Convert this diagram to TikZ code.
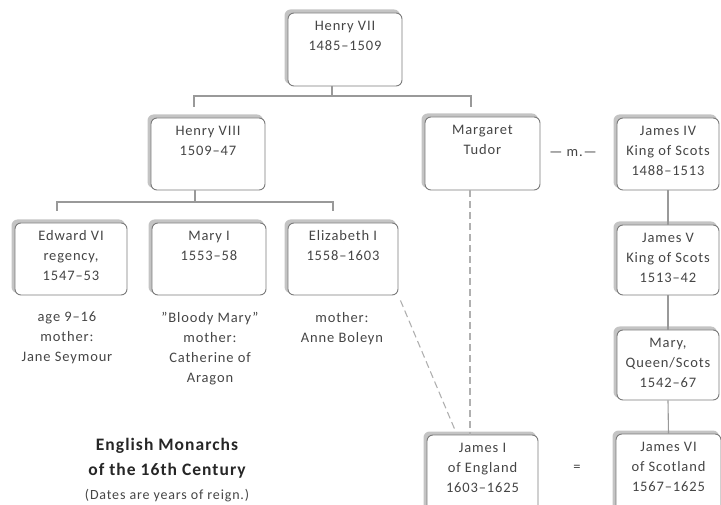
\documentclass[tikz,border=0pt]{standalone}
\usepackage{fontspec}
\setmainfont{Carlito}[LetterSpace=6]
\usetikzlibrary{calc}
\definecolor{txt}{HTML}{454545}
\definecolor{edge}{HTML}{7A7A7A}
\definecolor{shade}{HTML}{C4C4C4}
\definecolor{conn}{HTML}{999999}
\tikzset{
  kbox/.style={draw=edge, line width=0.9pt, rounded corners=6pt, fill=white, inner sep=0pt},
  kshadow/.style={fill=shade, rounded corners=6pt, draw=none},
  ktext/.style={text=txt, font=\fontsize{14.5}{20}\selectfont, align=center, inner sep=0pt, anchor=north},
  conline/.style={draw=conn, line width=1.1pt},
  dashline/.style={draw=shade!90!black, line width=1.1pt, dash pattern=on 7pt off 4pt},
}
% box: name, left, top, right, bottom, text
\newcommand{\kingbox}[6]{%
  \fill[kshadow] (#2-3.5,#3-3.5) rectangle (#4-2,#5-2);
  \node[kbox, minimum width=#4-#2, minimum height=#5-#3] (#1) at ({(#2+#4)/2},{(#3+#5)/2}) {};
  \node[ktext] (#1t) at ($(#1.north)+(0,8)$) {#6};
}
\begin{document}
\begin{tikzpicture}[x=1pt,y=-1pt]
\useasboundingbox (0,0) rectangle (721,505);
\clip (0,0) rectangle (721,505);
% boxes
\kingbox{h7}{288}{13}{402}{86}{Henry VII\\1485–1509}
\kingbox{h8}{151}{118}{265}{190}{Henry VIII\\1509–47}
\kingbox{mt}{425}{117}{540}{190}{Margaret\\Tudor}
\kingbox{j4}{617}{118}{719}{190}{James IV\\King of Scots\\1488–1513}
\kingbox{j5}{617}{225}{719}{295}{James V\\King of Scots\\1513–42}
\kingbox{mq}{617}{330}{719}{400}{Mary,\\Queen/Scots\\1542–67}
\kingbox{j6}{616}{434}{721}{512}{James VI\\of Scotland\\1567–1625}
\kingbox{ed}{15}{223}{127}{295}{Edward VI\\regency,\\1547–53}
\kingbox{m1}{152}{223}{266}{295}{Mary I\\1553–58}
\kingbox{el}{288}{223}{398}{295}{Elizabeth I\\1558–1603}
\kingbox{j1}{427}{435}{538}{512}{James I\\of England\\1603–1625}
% connector coordinates
\coordinate (hbarL) at (194,96);
\coordinate (hbarR) at (471,96);
\coordinate (cbarL) at (57,202);
\coordinate (cbarR) at (333,202);
% Henry VII children
\draw[conline] (h7.south -| 332,0) -- (332,96);
\draw[conline] (hbarL |- 0,107) -- (hbarL) -- (hbarR) -- (hbarR |- 0,107);
% Henry VIII children
\draw[conline] (h8.south -| 195,0) -- (195,202);
\draw[conline] (cbarL |- 0,211) -- (cbarL) -- (cbarR) -- (cbarR |- 0,211);
% Scots line
\draw[conline] (j4.south) -- (j5.north);
\draw[conline] (j5.south) -- (mq.north);
\draw[conline] (mq.south) -- (j6.north);
% dashed descent
\draw[dashline] (mt.south -| 470,0) -- (j1.north -| 470,0);
\draw[dashline] (el.south east) ++(2,5) coordinate (elx) (elx) -- (455,430) coordinate (j1x);
% labels
\node[ktext, anchor=center] (marr) at (573,153) {— m.—};
\node[ktext, anchor=center] (eq) at (577,468) {=};
\node[ktext] (edn) at (67,312) {age 9–16\\mother:\\Jane Seymour};
\node[ktext] (m1n) at (210,312) {"Bloody Mary"\\mother:\\Catherine of\\Aragon};
\node[ktext] (eln) at (342,312) {mother:\\Anne Boleyn};
% title
\node[text=black!85, font=\fontsize{17.5}{25}\selectfont\bfseries, align=center, inner sep=0pt, anchor=north] (title) at (167,438) {English Monarchs\\of the 16th Century};
\node[text=txt, font=\fontsize{14}{15}\selectfont, inner sep=0pt] (sub) at (167,496) {(Dates are years of reign.)};
\end{tikzpicture}
\end{document}
